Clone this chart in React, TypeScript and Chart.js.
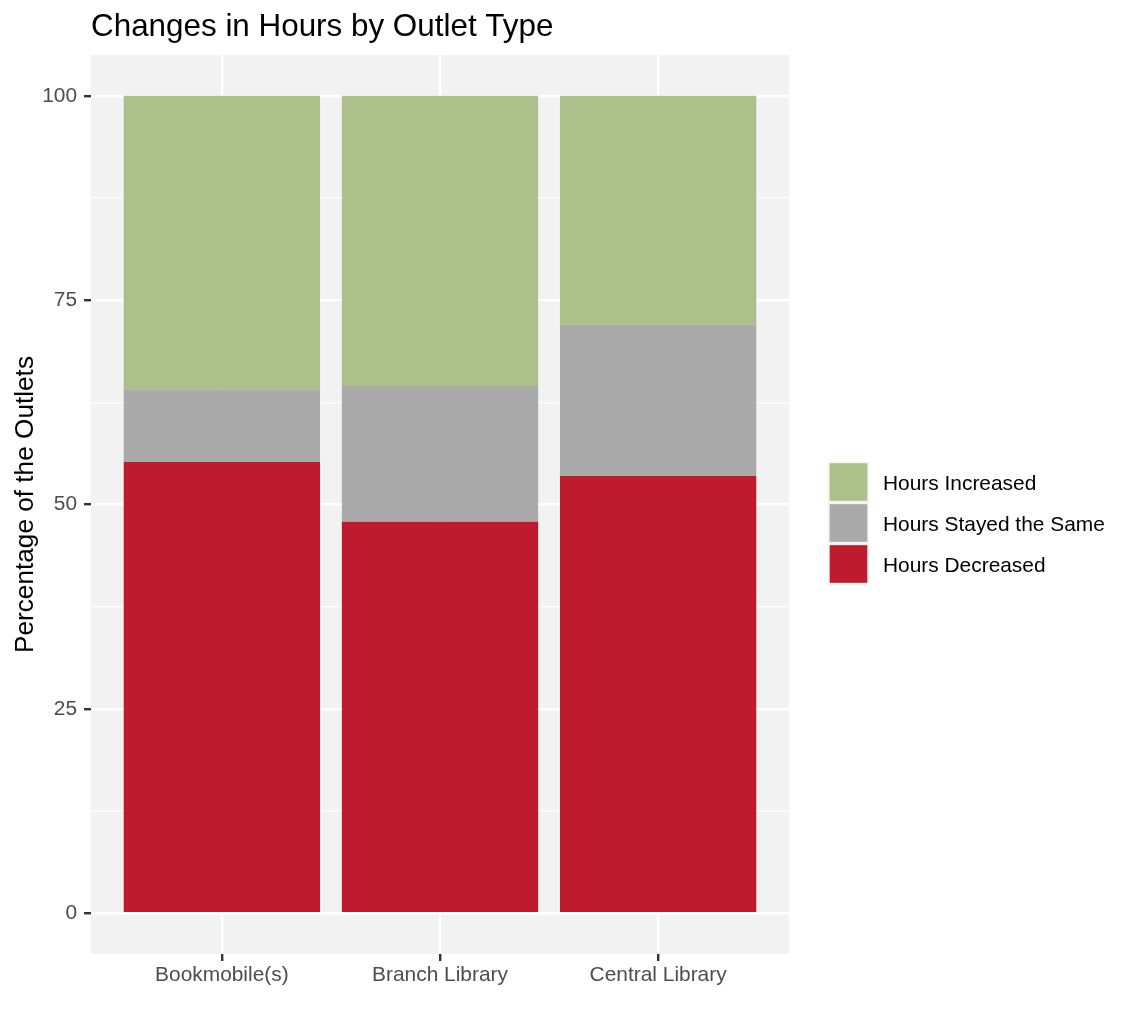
import React, { useEffect, useRef } from "react";
import { Chart, registerables } from "chart.js";

Chart.register(...registerables);

const categories = ["Bookmobile(s)", "Branch Library", "Central Library"];
const hoursDecreased = [55.2, 47.9, 53.5];
const hoursSame = [8.9, 16.6, 18.5];
const hoursIncreased = [35.9, 35.5, 28.0];
const majorTicks = [0, 25, 50, 75, 100];
const minorTicks = [12.5, 37.5, 62.5, 87.5];
const titleText = "Changes in Hours by Outlet Type";
const yTitleText = "Percentage of the Outlets";
const legendLabels = ["Hours Increased", "Hours Stayed the Same", "Hours Decreased"];

const GREEN = "#ACC18A";
const GRAY = "#AAAAAA";
const RED = "#BE1C2E";
const PANEL = "#F2F2F2";
const FONT = "'Liberation Sans', Arial, Helvetica, sans-serif";

const W = 1132;
const H = 1029;
const PANEL_LEFT = 91;
const PANEL_RIGHT = 789;
const PANEL_TOP = 55;
const PANEL_BOTTOM = 954;

export default function App() {
  const ref = useRef<HTMLCanvasElement | null>(null);

  useEffect(() => {
    const canvas = ref.current;
    if (!canvas) return;

    const decoPlugin = {
      id: "deco",
      beforeDraw(chart: any) {
        const { ctx, chartArea } = chart;
        ctx.save();
        ctx.fillStyle = "#FFFFFF";
        ctx.fillRect(0, 0, chart.width, chart.height);
        ctx.fillStyle = PANEL;
        ctx.fillRect(chartArea.left, chartArea.top, chartArea.right - chartArea.left, chartArea.bottom - chartArea.top);
        ctx.restore();
      },
      afterDraw(chart: any) {
        const { ctx } = chart;
        ctx.save();
        // title
        ctx.fillStyle = "#000000";
        ctx.font = `31.4px ${FONT}`;
        ctx.textAlign = "left";
        ctx.textBaseline = "alphabetic";
        ctx.fillText(titleText, PANEL_LEFT, 36);
        // y title
        ctx.save();
        ctx.translate(32.5, (PANEL_TOP + PANEL_BOTTOM) / 2);
        ctx.rotate(-Math.PI / 2);
        ctx.font = `26.2px ${FONT}`;
        ctx.textAlign = "center";
        ctx.fillText(yTitleText, 0, 0);
        ctx.restore();
        // legend
        const keyColors = [GREEN, GRAY, RED];
        const keyX = 828;
        const keyTop = 461.5;
        const keySize = 41;
        for (let i = 0; i < legendLabels.length; i++) {
          const y = keyTop + i * keySize;
          ctx.fillStyle = PANEL;
          ctx.fillRect(keyX, y, keySize, keySize);
          ctx.fillStyle = keyColors[i];
          ctx.fillRect(keyX + 1.7, y + 1.7, keySize - 3.4, keySize - 3.4);
          ctx.fillStyle = "#000000";
          ctx.font = `20.9px ${FONT}`;
          ctx.textAlign = "left";
          ctx.textBaseline = "alphabetic";
          ctx.fillText(legendLabels[i], 883, y + keySize / 2 + 7.7);
        }
        ctx.restore();
      },
    };

    const toPoints = (arr: number[]) => arr.map((v, i) => ({ x: i + 1, y: v }));
    const isMajor = (v: number) => majorTicks.includes(v);

    const chart = new Chart(canvas, {
      type: "bar",
      data: {
        datasets: [
          { label: "Hours Decreased", data: toPoints(hoursDecreased), backgroundColor: RED },
          { label: "Hours Stayed the Same", data: toPoints(hoursSame), backgroundColor: GRAY },
          { label: "Hours Increased", data: toPoints(hoursIncreased), backgroundColor: GREEN },
        ] as any,
      },
      options: {
        animation: false,
        responsive: false,
        devicePixelRatio: 1,
        layout: { padding: { left: 0, top: PANEL_TOP, right: W - PANEL_RIGHT, bottom: 0 } },
        datasets: { bar: { barPercentage: 0.9, categoryPercentage: 1.0, borderWidth: 0 } } as any,
        plugins: { legend: { display: false }, title: { display: false }, tooltip: { enabled: false } },
        scales: {
          x: {
            type: "linear",
            stacked: true,
            offset: false,
            min: 0.4,
            max: 3.6,
            afterBuildTicks: (scale: any) => {
              scale.ticks = categories.map((_, i) => ({ value: i + 1 }));
            },
            afterFit: (scale: any) => {
              scale.height = H - PANEL_BOTTOM;
            },
            border: { display: false },
            grid: {
              offset: false,
              color: "#FFFFFF",
              lineWidth: 2.4,
              drawTicks: true,
              tickLength: 7,
              tickWidth: 2.4,
              tickColor: "#333333",
            },
            ticks: {
              autoSkip: false,
              maxRotation: 0,
              padding: 2,
              color: "#4D4D4D",
              font: { size: 20.9, family: FONT },
              callback: (v: any) => categories[Math.round(Number(v)) - 1] ?? "",
            },
          } as any,
          y: {
            type: "linear",
            stacked: true,
            min: -5,
            max: 105,
            afterBuildTicks: (scale: any) => {
              scale.ticks = [...majorTicks, ...minorTicks].sort((a, b) => a - b).map((v) => ({ value: v }));
            },
            afterFit: (scale: any) => {
              scale.width = PANEL_LEFT;
            },
            border: { display: false },
            grid: {
              color: "#FFFFFF",
              lineWidth: (c: any) => (isMajor(c.tick?.value) ? 2.4 : 1.2),
              drawTicks: true,
              tickLength: 7,
              tickWidth: 2.4,
              tickColor: (c: any) => (isMajor(c.tick?.value) ? "#333333" : "rgba(0,0,0,0)"),
            },
            ticks: {
              padding: 7,
              color: "#4D4D4D",
              font: { size: 20.9, family: FONT },
              callback: (v: any) => (isMajor(Number(v)) ? String(v) : ""),
            },
          } as any,
        },
      },
      plugins: [decoPlugin],
    } as any);

    return () => chart.destroy();
  }, []);

  return (
    <div style={{ position: "absolute", left: 0, top: 0, width: W, height: H }}>
      <canvas ref={ref} width={W} height={H} style={{ display: "block", width: W, height: H }} />
    </div>
  );
}
